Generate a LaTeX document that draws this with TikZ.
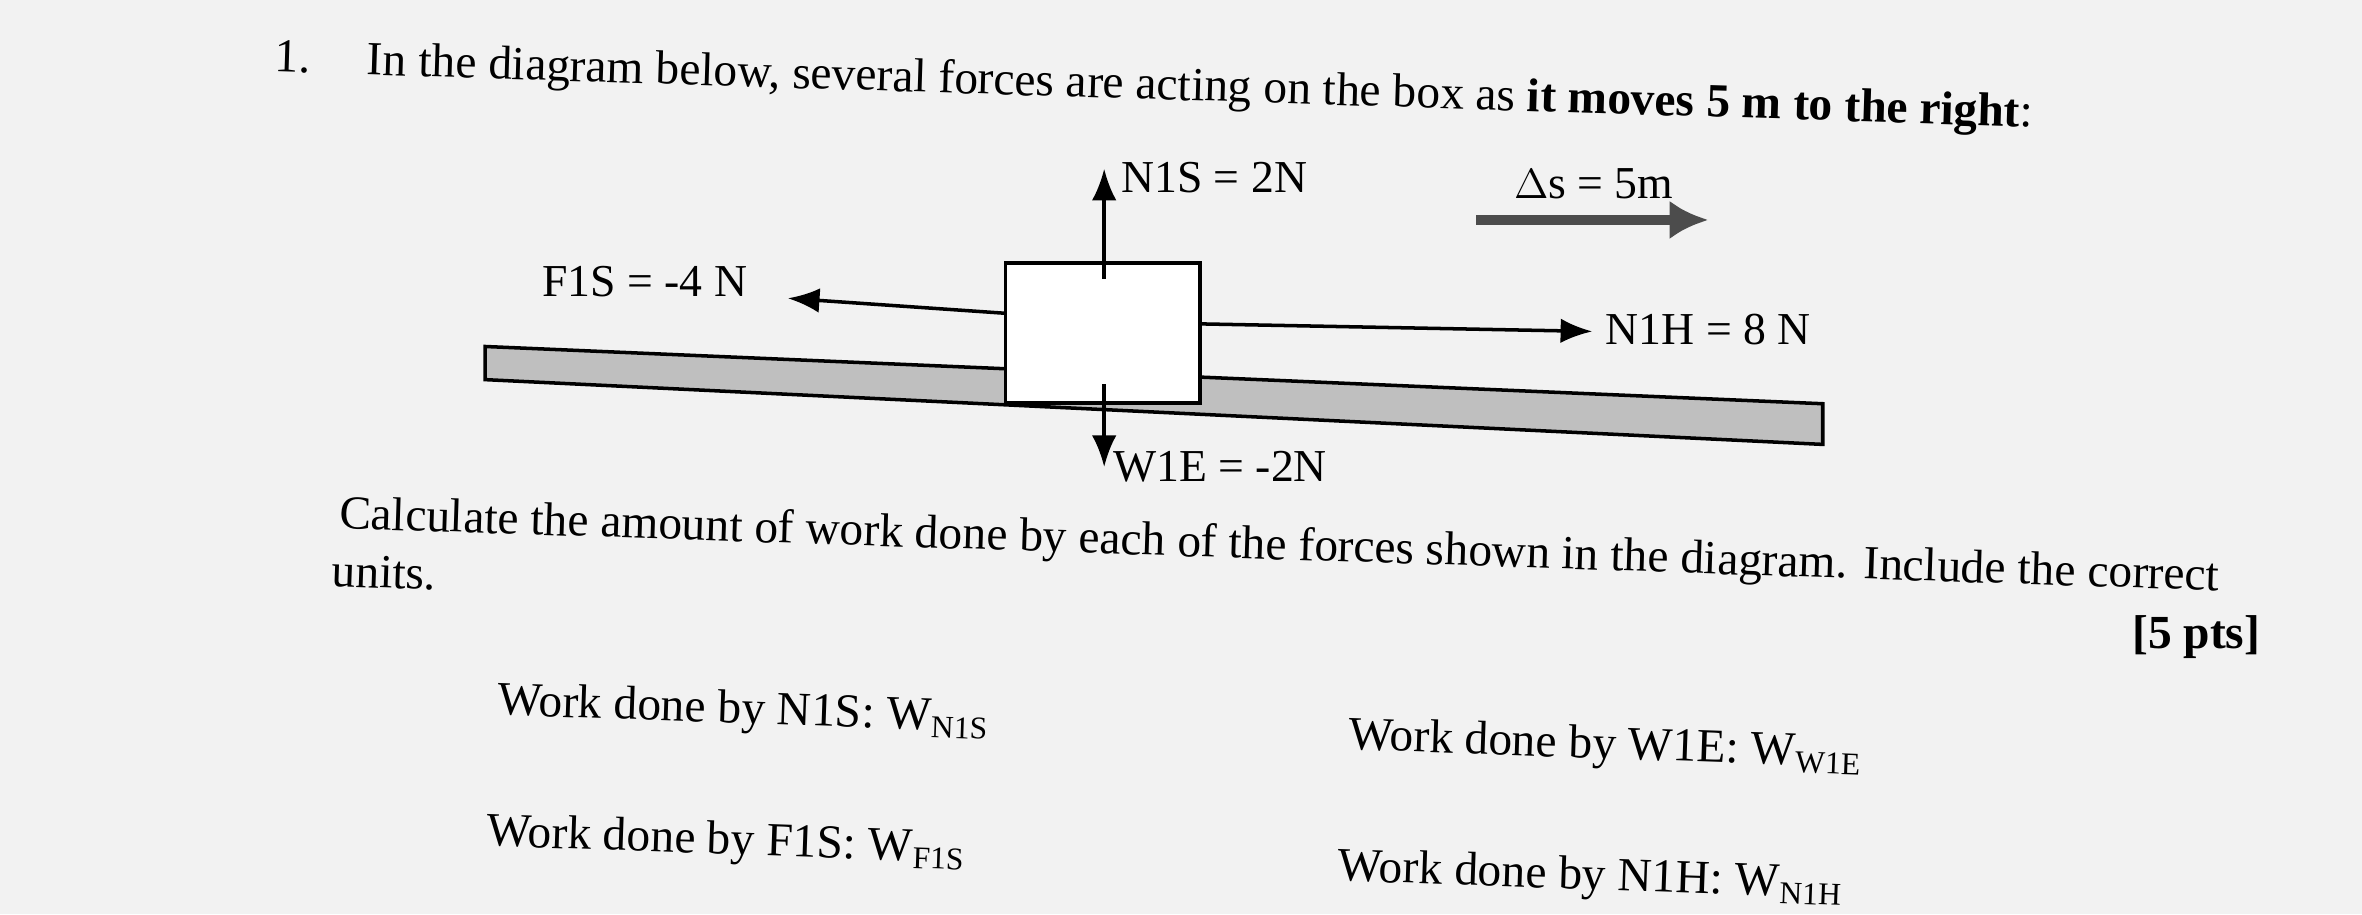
\documentclass[tikz,border=0pt]{standalone}
\usepackage{fontspec}
\setmainfont{Liberation Serif}
\usetikzlibrary{arrows.meta}
\begin{document}
\begin{tikzpicture}[x=0.015064cm,y=-0.015064cm,
  txt/.style={font=\fontsize{13.5}{16}\selectfont,inner sep=0pt},
  lbl/.style={font=\fontsize{13}{15}\selectfont,inner sep=1pt},
  force/.style={line width=1pt,-{Latex[length=9pt,width=7pt]}},
  pt/.style={coordinate}]
\fill[black!5] (0,0) rectangle (1568,607);
\useasboundingbox (0,0) rectangle (1568,607);
% header
\node[txt,anchor=west,rotate=-1.8] (title) at (182,40) {1.\hspace{1.2em}In the diagram below, several forces are acting on the box as \textbf{it moves 5 m to the right}:};
% floor
\filldraw[fill=black!25,draw=black,line width=1pt] (322,230) -- (1210,268) -- (1210,295) -- (322,252) -- cycle;
% box
\node[draw,fill=white,line width=1pt,minimum width=129*0.15064mm,minimum height=93*0.15064mm,inner sep=0pt] (box) at (732,221) {};
% N1S
\coordinate (n1s0) at (733,185);
\coordinate (n1s1) at (733,112);
\node[lbl] (n1slab) at (806,118) {N1S = 2N};
\draw[force] (n1s0) -- (n1s1);
% F1S
\coordinate (f1s0) at (668,208);
\coordinate (f1s1) at (523,198);
\node[lbl] (f1slab) at (428,187) {F1S = -4 N};
\draw[force] (f1s0) -- (f1s1);
% N1H
\coordinate (n1h0) at (797,215);
\coordinate (n1h1) at (1057,220);
\node[lbl] (n1hlab) at (1134,219) {N1H = 8 N};
\draw[force] (n1h0) -- (n1h1);
% W1E
\coordinate (w1e0) at (733,255);
\coordinate (w1e1) at (733,310);
\node[lbl] (w1elab) at (810,310) {W1E = -2N};
\draw[force] (w1e0) -- (w1e1);
% displacement
\coordinate (ds0) at (980,146);
\coordinate (ds1) at (1134,146);
\node[lbl] (dslab) at (1058,122) {$\Delta$s = 5m};
\draw[line width=3pt,black!70,-{Latex[length=11pt,width=11pt]}] (ds0) -- (ds1);
% question
\node[txt,anchor=west,rotate=-1.9] (q1) at (225,343) {Calculate the amount of work done by each of the forces shown in the diagram. Include the correct};
\node[txt,anchor=west,rotate=-2] (q2) at (220,379) {units.};
\node[txt,anchor=center] (pts) at (1458,423) {\textbf{[5 pts]}};
% work lines
\node[txt,anchor=west,rotate=-2] (wn1s) at (330,467) {Work done by N1S: W\textsubscript{\fontsize{9}{10}\selectfont N1S}};
\node[txt,anchor=west,rotate=-2] (ww1e) at (895,490) {Work done by W1E: W\textsubscript{\fontsize{9}{10}\selectfont W1E}};
\node[txt,anchor=west,rotate=-2] (wf1s) at (323,554) {Work done by F1S: W\textsubscript{\fontsize{9}{10}\selectfont F1S}};
\node[txt,anchor=west,rotate=-2] (wn1h) at (888,577) {Work done by N1H: W\textsubscript{\fontsize{9}{10}\selectfont N1H}};
\end{tikzpicture}
\end{document}
